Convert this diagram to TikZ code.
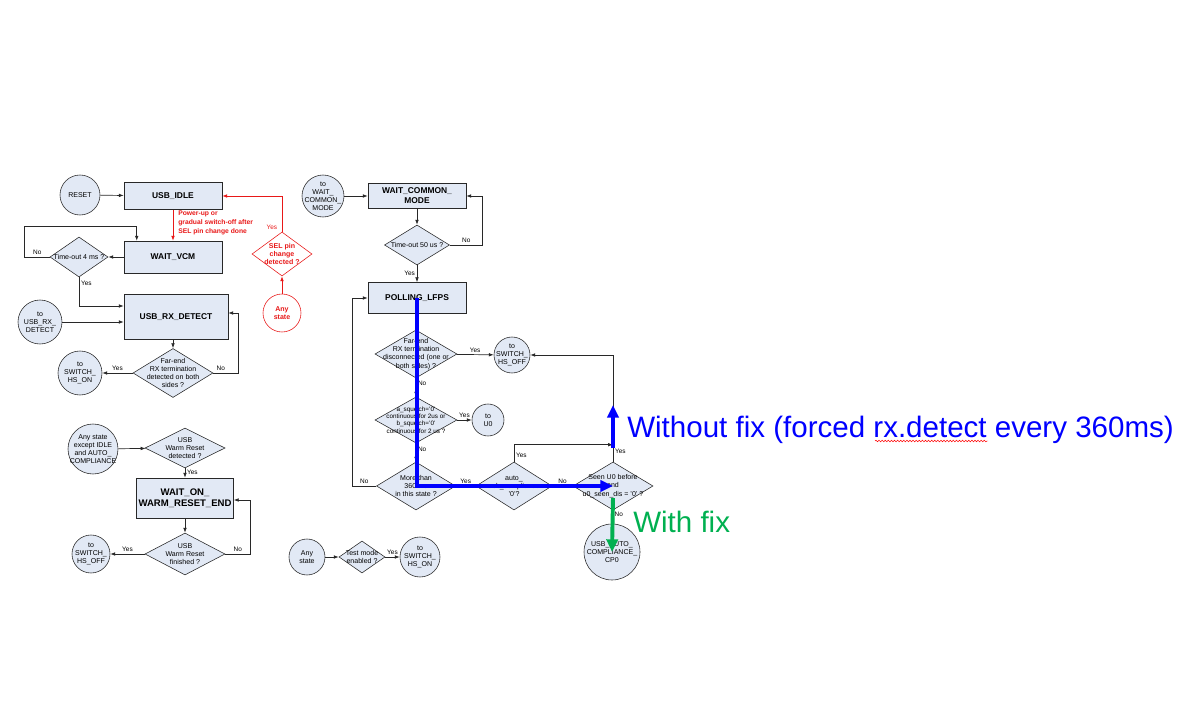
\documentclass[tikz,border=0pt]{standalone}
\usepackage{fontspec}
\setmainfont{Liberation Sans}
\usetikzlibrary{
  arrows.meta,
  positioning,
  shapes.geometric,
  decorations.pathmorphing
}
\definecolor{boxfill}{RGB}{226,233,245}
\definecolor{linegrey}{RGB}{40,40,40}
\definecolor{redline}{RGB}{232,24,24}
\definecolor{fixblue}{RGB}{0,0,255}
\definecolor{fixgreen}{RGB}{0,176,80}
\newcommand{\pxl}{0.025cm}

\begin{document}
\begin{tikzpicture}[
  x=\pxl, y=-\pxl,
  txt/.style={font=\fontsize{5}{5.8}\selectfont, align=center, inner sep=0pt},
  state/.style 2 args={
    rectangle, draw=linegrey, fill=boxfill, inner sep=0pt, align=center,
    minimum width=#1*\pxl, minimum height=#2*\pxl,
    font=\fontsize{6}{7}\selectfont\bfseries
  },
  test/.style 2 args={
    diamond, draw=linegrey, fill=boxfill, inner sep=0pt,
    minimum width=#1*\pxl, minimum height=#2*\pxl
  },
  term/.style={
    circle, draw=linegrey, fill=boxfill, inner sep=0pt, minimum size=#1*\pxl
  },
  lbl/.style={label={[txt]center:{#1}}},
  smalllbl/.style={label={[txt, font=\fontsize{4.5}{5.3}\selectfont]center:{#1}}},
  redlbl/.style={label={[txt, text=redline, font=\fontsize{5}{5.8}\selectfont\bfseries]center:{#1}}},
  yn/.style={font=\fontsize{4.6}{5}\selectfont, inner sep=1.2pt},
  flow/.style={-{Latex[length=3.5pt,width=2.6pt]}, draw=linegrey, line width=0.5pt},
  redflow/.style={flow, draw=redline},
  nofix/.style={-{Triangle[length=9pt,width=8pt]}, draw=fixblue, line width=2.8pt},
  withfix/.style={-{Triangle[length=9pt,width=8pt]}, draw=fixgreen, line width=2.8pt},
]
\useasboundingbox (0,0) rectangle (1191,721);

% Left column: idle / vcm / rx detect
\node[term=40, lbl={RESET}] (reset) at (80,195) {};
\node[state={98}{27}] (idle) at (173,196) {USB\_IDLE};
\node[state={98}{32}] (vcm) at (173,257) {WAIT\_VCM};
\node[test={58}{40}, lbl={Time-out 4 ms ?}] (to4) at (79,257) {};
\node[state={104}{45}] (rxdet) at (176,317) {USB\_RX\_DETECT};
\node[term=44, lbl={to\\USB\_RX\_\\DETECT}] (torx) at (40,322) {};
\node[test={80}{49}, lbl={Far-end\\RX termination\\detected on both\\sides ?}] (farrx) at (173,373) {};
\node[term=44, lbl={to\\SWITCH\_\\HS\_ON}] (tohson) at (80,373) {};

% Red branch: SEL pin change
\node[test={60}{44}, draw=redline, fill=white, redlbl={SEL pin\\change\\detected ?}] (sel) at (282,254) {};
\node[term=38, draw=redline, fill=white, redlbl={Any\\state}] (anyred) at (282,313) {};
\node[anchor=north west, inner sep=0pt, align=left, text=redline,
  font=\fontsize{4.8}{6.3}\selectfont\bfseries] (pwrtxt) at (178,211)
  {Power-up or\\gradual switch-off after\\SEL pin change done};

% Left column, bottom: warm reset
\node[term=50, lbl={Any state\\except IDLE\\and AUTO\_\\COMPLIANCE}] (anyst) at (93,449) {};
\node[test={80}{40}, lbl={USB\\Warm Reset\\detected ?}] (warmdet) at (185,448) {};
\node[state={97}{40}, font=\fontsize{6.8}{8}\selectfont\bfseries] (waitwarm) at (185,498) {WAIT\_ON\_\\WARM\_RESET\_END};
\node[test={80}{42}, lbl={USB\\Warm Reset\\finished ?}] (warmfin) at (185,554) {};
\node[term=38, lbl={to\\SWITCH\_\\HS\_OFF}] (tohsoff1) at (91,554) {};

% Test mode
\node[term=36, lbl={Any\\state}] (anytest) at (307,557) {};
\node[test={46}{32}, lbl={Test mode\\enabled ?}] (testmode) at (362,557) {};
\node[term=40, lbl={to\\SWITCH\_\\HS\_ON}] (tohson2) at (420,557) {};

% Right column: common mode / polling
\node[term=42, lbl={to\\WAIT\_\\COMMON\_\\MODE}] (towcm) at (323,196) {};
\node[state={98}{25}] (wcm) at (417,196) {WAIT\_COMMON\_\\MODE};
\node[test={65}{40}, lbl={Time-out 50 us ?}] (t50) at (417,245) {};
\node[state={98}{31}] (poll) at (417,298) {POLLING\_LFPS};
\node[test={82}{48}, lbl={Far-end\\RX termination\\disconnected (one or\\both sides) ?}] (farend) at (416,354) {};
\node[term=36, lbl={to\\SWITCH\_\\HS\_OFF}] (tohsoff2) at (512,355) {};
\node[test={82}{46}, smalllbl={a\_squelch='0'\\continuous for 2us or\\b\_squelch='0'\\continuous for 2 us ?}] (squelch) at (416,420) {};
\node[term=32, lbl={to\\U0}] (tou0) at (488,420) {};
\node[test={79}{48}, lbl={More than\\360 ms\\in this state ?}] (more) at (416,486) {};
\node[test={76}{48}, lbl={auto\_\\usb\_compliance\\'0'?}] (auto) at (514,486) {};
\node[test={80}{48}, lbl={Seen U0 before\\and\\u0\_seen\_dis = '0' ?}] (seen) at (613,486) {};
\node[term=56, lbl={USB\_AUTO\_\\COMPLIANCE\_\\CP0}] (cp0) at (612,552) {};

% Left column flows
\draw[flow] (reset) -- (idle);
\draw[redflow] (idle) -- (vcm);
\draw[flow] (vcm) -- (to4);
\draw[flow] (to4.west) -- ++(-25,0) node[yn, midway, above] (no1) {No}
  -- ++(0,-31) -| ([xshift=13*\pxl]vcm.north west);
\draw[flow] (to4.south) |- ([yshift=11*\pxl]rxdet.west) node[yn, pos=0.1, right] (yes1) {Yes};
\draw[flow] (torx) -- (torx -| rxdet.west);
\draw[flow] (farrx.north |- rxdet.south) -- (farrx);
\draw[flow] (farrx) -- (tohson) node[yn, midway, above] (yes2) {Yes};
\draw[flow] (farrx.east) -- ++(25,0) node[yn, pos=0.3, above] (no2) {No}
  |- ([yshift=4*\pxl]rxdet.east);

% Red flows
\draw[redflow] (anyred) -- (sel);
\draw[redflow] (sel.north) |- (idle.east)
  node[yn, text=redline, pos=0, above left, xshift=-2pt] (yes3) {Yes};

% Warm reset flows
\draw[flow] (anyst) -- (warmdet);
\draw[flow] (warmdet) -- (waitwarm) node[yn, pos=0.4, right] (yes4) {Yes};
\draw[flow] (waitwarm) -- (warmfin);
\draw[flow] (warmfin) -- (tohsoff1) node[yn, midway, above] (yes5) {Yes};
\draw[flow] (warmfin.east) -- ++(25,0) node[yn, midway, above] (no3) {No}
  |- ([yshift=-2*\pxl]waitwarm.east);

% Test mode flows
\draw[flow] (anytest) -- (testmode);
\draw[flow] (testmode) -- (tohson2) node[yn, midway, above] (yes6) {Yes};

% Right column flows
\draw[flow] (towcm) -- (wcm);
\draw[flow] (wcm) -- (t50);
\draw[flow] (t50.east) -- ++(33,0) node[yn, midway, above] (no4) {No} |- (wcm.east);
\draw[flow] (t50) -- (poll) node[yn, midway, left] (yes7) {Yes};
\draw[flow] (farend) -- (tohsoff2) node[yn, midway, above] (yes8) {Yes};
\draw[flow] (farend) -- (squelch) node[yn, pos=0.25, right] (no5) {No};
\draw[flow] (squelch) -- (tou0) node[yn, midway, above] (yes9) {Yes};
\draw[flow] (squelch) -- (more) node[yn, pos=0.3, right] (no6) {No};
\draw[flow] (more.west) -- ++(-24,0) node[yn, midway, above] (no7) {No} |- (poll.west);
\draw[flow] (more) -- (auto) node[yn, midway, above] (yes10) {Yes};
\draw[flow] (auto) -- (seen) node[yn, midway, above] (no8) {No};
\draw[flow] (auto.north) |- ([yshift=17*\pxl]seen.north) node[yn, pos=0.2, right] (yes11) {Yes};
\draw[flow] (seen.north) |- (tohsoff2.east) node[yn, pos=0.05, right] (yes12) {Yes};
\draw[flow] (seen) -- (cp0) node[yn, pos=0.3, right] (no9) {No};

% Overlay: with / without fix
\coordinate (up0) at (613,448);
\coordinate (up1) at (613,405);
\coordinate (fix0) at (613,498);
\draw[nofix] (poll.center) |- (seen.center);
\draw[nofix] (up0) -- (up1);
\draw[withfix] (fix0) -- (cp0.center);
\node[anchor=base west, inner sep=0pt, text=fixblue, font=\fontsize{21}{25}\selectfont]
  (nofixtxt) at (627,437) {Without fix (forced rx.detect every 360ms)};
\node[anchor=base west, inner sep=0pt, text=fixgreen, font=\fontsize{21}{25}\selectfont]
  (fixtxt) at (633,532) {With fix};
\draw[red, line width=0.35pt, decorate, decoration={snake, amplitude=0.6pt, segment length=2.2pt}]
  (875,441) -- (988,441);

\end{tikzpicture}
\end{document}
